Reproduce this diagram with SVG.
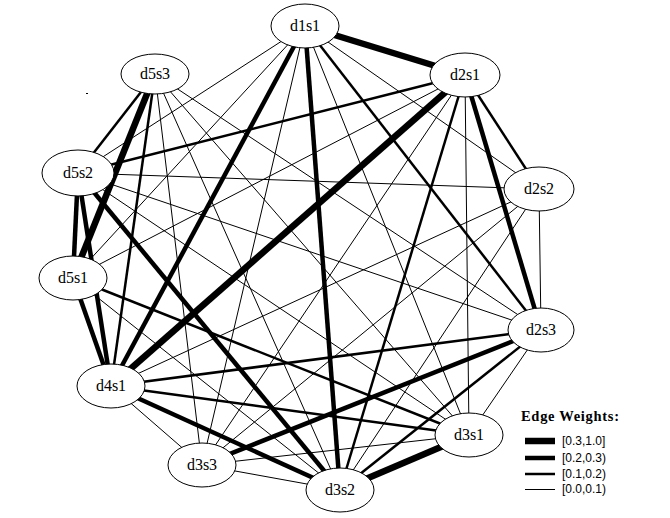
<svg xmlns="http://www.w3.org/2000/svg" width="670" height="518" viewBox="0 0 670 518">
  <style>
    .e line { stroke: #000; stroke-linecap: butt; }
    .w1 { stroke-width: 1; }
    .w2 { stroke-width: 2.5; }
    .w3 { stroke-width: 4.5; }
    .w4 { stroke-width: 6.5; }
    .node ellipse { fill: #fff; stroke: #000; stroke-width: 1; }
    .node text { font-family: "Liberation Serif", "Times New Roman", serif; font-size: 16px; text-anchor: middle; fill: #000; }
    .legend-title { font-family: "Liberation Serif", "Times New Roman", serif; font-size: 14.5px; font-weight: bold; fill: #000; }
    .legend-label { font-family: "Liberation Sans", Arial, sans-serif; font-size: 12px; fill: #000; }
  </style>
  <rect width="670" height="518" fill="#fff"/>

  <!-- connectors: drawn centre to centre, node fills hide the inner parts -->
  <g id="edges" class="e">
    <!-- d1s1 -->
    <line class="w4" x1="305" y1="26" x2="465" y2="75"/>
    <line class="w1" x1="305" y1="26" x2="78" y2="173"/>
    <line class="w1" x1="305" y1="26" x2="539" y2="189"/>
    <line class="w1" x1="305" y1="26" x2="73" y2="278"/>
    <line class="w2" x1="305" y1="26" x2="541" y2="330"/>
    <line class="w3" x1="305" y1="26" x2="111" y2="386"/>
    <line class="w1" x1="305" y1="26" x2="469" y2="435"/>
    <line class="w1" x1="305" y1="26" x2="202" y2="465"/>
    <line class="w3" x1="305" y1="26" x2="340" y2="490"/>
    <!-- d2s1 -->
    <line class="w2" x1="465" y1="75" x2="78" y2="173"/>
    <line class="w2" x1="465" y1="75" x2="539" y2="189"/>
    <line class="w1" x1="465" y1="75" x2="73" y2="278"/>
    <line class="w3" x1="465" y1="75" x2="541" y2="330"/>
    <line class="w4" x1="465" y1="75" x2="111" y2="386"/>
    <line class="w1" x1="465" y1="75" x2="469" y2="435"/>
    <line class="w1" x1="465" y1="75" x2="202" y2="465"/>
    <line class="w2" x1="465" y1="75" x2="340" y2="490"/>
    <!-- d5s3 -->
    <line class="w2" x1="155" y1="74" x2="78" y2="173"/>
    <line class="w4" x1="155" y1="74" x2="73" y2="278"/>
    <line class="w1" x1="155" y1="74" x2="541" y2="330"/>
    <line class="w2" x1="155" y1="74" x2="111" y2="386"/>
    <line class="w1" x1="155" y1="74" x2="469" y2="435"/>
    <line class="w1" x1="155" y1="74" x2="202" y2="465"/>
    <line class="w1" x1="155" y1="74" x2="340" y2="490"/>
    <!-- d5s2 -->
    <line class="w1" x1="78" y1="173" x2="539" y2="189"/>
    <line class="w3" x1="78" y1="173" x2="73" y2="278"/>
    <line class="w1" x1="78" y1="173" x2="541" y2="330"/>
    <line class="w3" x1="78" y1="173" x2="111" y2="386"/>
    <line class="w1" x1="78" y1="173" x2="469" y2="435"/>
    <line class="w3" x1="78" y1="173" x2="340" y2="490"/>
    <!-- d2s2 -->
    <line class="w1" x1="539" y1="189" x2="541" y2="330"/>
    <line class="w1" x1="539" y1="189" x2="111" y2="386"/>
    <line class="w1" x1="539" y1="189" x2="202" y2="465"/>
    <line class="w1" x1="539" y1="189" x2="340" y2="490"/>
    <!-- d5s1 -->
    <line class="w3" x1="73" y1="278" x2="111" y2="386"/>
    <line class="w2" x1="73" y1="278" x2="469" y2="435"/>
    <line class="w1" x1="73" y1="278" x2="340" y2="490"/>
    <!-- d2s3 -->
    <line class="w2" x1="541" y1="330" x2="111" y2="386"/>
    <line class="w1" x1="541" y1="330" x2="469" y2="435"/>
    <line class="w3" x1="541" y1="330" x2="202" y2="465"/>
    <line class="w2" x1="541" y1="330" x2="340" y2="490"/>
    <!-- d4s1 -->
    <line class="w2" x1="111" y1="386" x2="469" y2="435"/>
    <line class="w1" x1="111" y1="386" x2="202" y2="465"/>
    <line class="w3" x1="111" y1="386" x2="340" y2="490"/>
    <!-- d3s1 / d3s3 -->
    <line class="w1" x1="469" y1="435" x2="202" y2="465"/>
    <line class="w4" x1="469" y1="435" x2="340" y2="490"/>
    <line class="w1" x1="202" y1="465" x2="340" y2="490"/>
  </g>

  <g id="d1s1" class="node"><ellipse cx="305" cy="26" rx="34" ry="22"/><text x="305" y="31">d1s1</text></g>
  <g id="d2s1" class="node"><ellipse cx="465" cy="75" rx="35" ry="22"/><text x="465" y="80">d2s1</text></g>
  <g id="d5s3" class="node"><ellipse cx="155" cy="74" rx="34" ry="20"/><text x="155" y="79">d5s3</text></g>
  <g id="d5s2" class="node"><ellipse cx="78" cy="173" rx="36" ry="23"/><text x="78" y="178">d5s2</text></g>
  <g id="d2s2" class="node"><ellipse cx="539" cy="189" rx="35" ry="22"/><text x="539" y="194">d2s2</text></g>
  <g id="d5s1" class="node"><ellipse cx="73" cy="278" rx="34" ry="22"/><text x="73" y="283">d5s1</text></g>
  <g id="d2s3" class="node"><ellipse cx="541" cy="330" rx="33" ry="22"/><text x="541" y="335">d2s3</text></g>
  <g id="d4s1" class="node"><ellipse cx="111" cy="386" rx="34" ry="22"/><text x="111" y="391">d4s1</text></g>
  <g id="d3s1" class="node"><ellipse cx="469" cy="435" rx="34" ry="22"/><text x="469" y="440">d3s1</text></g>
  <g id="d3s3" class="node"><ellipse cx="202" cy="465" rx="34" ry="22"/><text x="202" y="470">d3s3</text></g>
  <g id="d3s2" class="node"><ellipse cx="340" cy="490" rx="34" ry="22"/><text x="340" y="495">d3s2</text></g>

  <!-- stray mark -->
  <rect x="86" y="93" width="2" height="1" fill="#000"/>

  <!-- legend -->
  <g id="legend">
    <text class="legend-title" x="521" y="421" textLength="98" lengthAdjust="spacing">Edge Weights:</text>
    <g class="e">
      <line class="w4" x1="525" y1="441" x2="555" y2="441"/>
      <line class="w3" x1="525" y1="458" x2="555" y2="458"/>
      <line class="w2" x1="525" y1="474" x2="555" y2="474"/>
      <line class="w1" x1="525" y1="489.5" x2="555" y2="489.5"/>
    </g>
    <text class="legend-label" x="562" y="445">[0.3,1.0]</text>
    <text class="legend-label" x="562" y="462">[0.2,0.3)</text>
    <text class="legend-label" x="562" y="478">[0.1,0.2)</text>
    <text class="legend-label" x="562" y="493">[0.0,0.1)</text>
  </g>
</svg>
